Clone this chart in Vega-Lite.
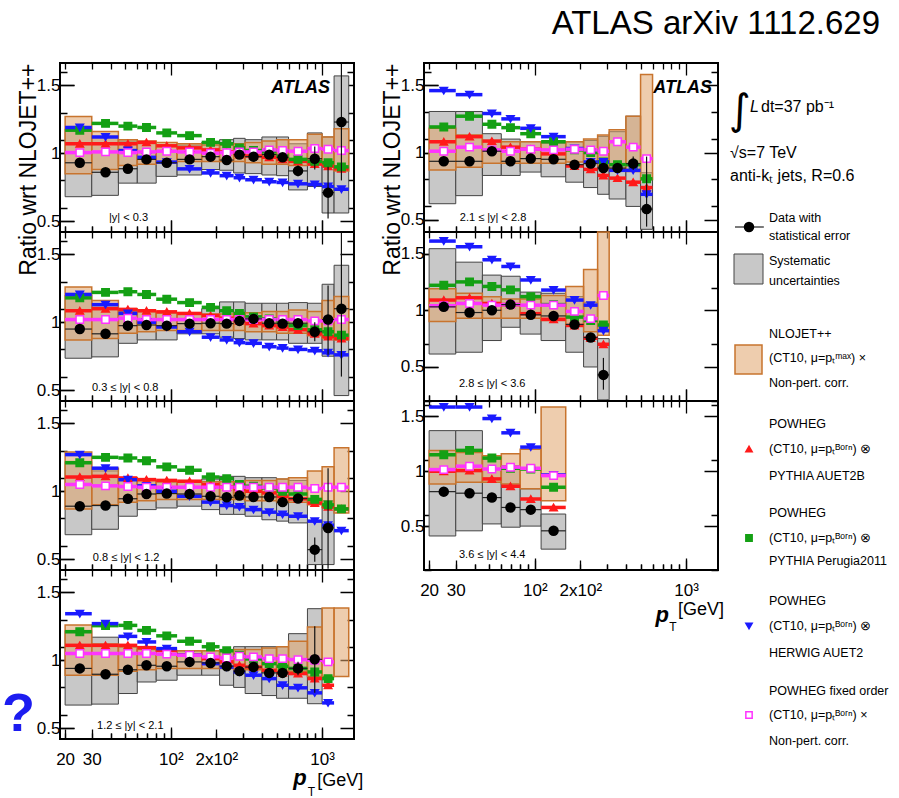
{
"$schema":"https://vega.github.io/schema/vega-lite/v6.json",
"padding":{"top":8,"left":0,"right":0,"bottom":0},
"background":"white",
"title":{"text":"ATLAS arXiv 1112.629","anchor":"end","fontSize":33,"font":"Liberation Sans","fontWeight":"normal","color":"black","offset":21,"dx":-16},
"config":{
 "view":{"stroke":"black","strokeWidth":2},
 "axis":{"domain":false,"grid":false,"tickColor":"black","tickWidth":1.3,"labelColor":"black","labelFont":"Liberation Sans","labelFontSize":17,"labelFlush":false,"labelOverlap":false,"titleColor":"black","titleFont":"Liberation Sans","titleFontWeight":"normal","titleFontSize":23,"gridColor":"black","gridOpacity":1,"gridWidth":1.3},
 "style":{
  "rl":{"font":"Liberation Sans","fontSize":11,"align":"left","baseline":"middle"},
  "atl":{"font":"Liberation Sans","fontSize":18,"fontWeight":"bold","fontStyle":"italic","align":"right","baseline":"middle"},
  "pt":{"font":"Liberation Sans","fontSize":22,"fontWeight":"bold","fontStyle":"italic","align":"center","baseline":"middle"},
  "ptt":{"font":"Liberation Sans","fontSize":12,"align":"center","baseline":"middle"},
  "gev":{"font":"Liberation Sans","fontSize":18,"align":"left","baseline":"middle"},
  "qm":{"font":"Liberation Sans","fontSize":54,"fontWeight":"bold","align":"left","baseline":"middle"},
  "lt":{"font":"Liberation Sans","fontSize":12.5,"align":"left","baseline":"middle"},
  "lb":{"font":"Liberation Sans","fontSize":16,"align":"left","baseline":"middle"},
  "li":{"font":"DejaVu Sans","fontSize":42,"align":"left","baseline":"middle"}
 }
},
"datasets":{
"bins":[
{"p":"L1","lo":20,"hi":30,"c":25,"d":0.93,"sl":0.68,"sh":1.18,"nl":0.85,"nh":1.27,"r":1.07,"g":1.17,"b":1.19,"m":1.005},
{"p":"L1","lo":30,"hi":45,"c":37,"d":0.86,"sl":0.69,"sh":1.12,"nl":0.88,"nh":1.16,"r":1.07,"g":1.22,"b":1.12,"m":1.01},
{"p":"L1","lo":45,"hi":60,"c":52,"d":0.886,"sl":0.78,"sh":1.09,"nl":0.91,"nh":1.1,"r":1.07,"g":1.2,"b":1.02,"m":1.005},
{"p":"L1","lo":60,"hi":80,"c":69,"d":0.955,"sl":0.78,"sh":1.08,"nl":0.92,"nh":1.09,"r":1.08,"g":1.19,"b":0.97,"m":1.01},
{"p":"L1","lo":80,"hi":110,"c":94,"d":0.93,"sl":0.83,"sh":1.06,"nl":0.93,"nh":1.08,"r":1.055,"g":1.15,"b":0.935,"m":1.015},
{"p":"L1","lo":110,"hi":160,"c":133,"d":0.955,"sl":0.84,"sh":1.06,"nl":0.94,"nh":1.07,"r":1.04,"g":1.13,"b":0.885,"m":1.01},
{"p":"L1","lo":160,"hi":210,"c":183,"d":0.975,"sl":0.88,"sh":1.08,"nl":0.94,"nh":1.06,"r":1.025,"g":1.08,"b":0.855,"m":1.0},
{"p":"L1","lo":210,"hi":260,"c":234,"d":0.95,"sl":0.875,"sh":1.1,"nl":0.94,"nh":1.06,"r":1.01,"g":1.07,"b":0.835,"m":1.005},
{"p":"L1","lo":260,"hi":310,"c":284,"d":0.99,"sl":0.855,"sh":1.11,"nl":0.94,"nh":1.07,"r":0.99,"g":1.04,"b":0.82,"m":1.01},
{"p":"L1","lo":310,"hi":400,"c":352,"d":0.975,"sl":0.85,"sh":1.1,"nl":0.93,"nh":1.08,"r":0.98,"g":1.02,"b":0.805,"m":1.01},
{"p":"L1","lo":400,"hi":500,"c":447,"d":0.99,"sl":0.84,"sh":1.12,"nl":0.92,"nh":1.09,"r":0.97,"g":1.01,"b":0.79,"m":1.025},
{"p":"L1","lo":500,"hi":600,"c":548,"d":0.97,"sl":0.835,"sh":1.12,"nl":0.92,"nh":1.1,"r":0.955,"g":0.98,"b":0.785,"m":1.02},
{"p":"L1","lo":600,"hi":800,"c":693,"d":0.87,"dl":0.83,"dh":0.91,"sl":0.73,"sh":1.07,"nl":0.91,"nh":1.1,"r":0.94,"g":0.955,"b":0.775,"m":1.015},
{"p":"L1","lo":800,"hi":1000,"c":894,"d":0.96,"dl":0.88,"dh":1.05,"sl":0.755,"sh":1.15,"nl":0.93,"nh":1.14,"r":0.92,"g":0.94,"b":0.77,"m":1.035},
{"p":"L1","lo":1000,"hi":1200,"c":1095,"d":0.71,"dl":0.52,"dh":0.9,"sl":0.56,"sh":1.12,"nl":0.92,"nh":1.12,"r":0.905,"g":0.93,"b":0.755,"m":1.03},
{"p":"L1","lo":1200,"hi":1500,"c":1342,"d":1.23,"dl":0.8,"dh":1.66,"sl":0.56,"sh":1.57,"nl":0.87,"nh":1.18,"r":0.885,"g":0.9,"b":0.735,"m":1.02},
{"p":"L2","lo":20,"hi":30,"c":25,"d":0.95,"sl":0.735,"sh":1.2,"nl":0.87,"nh":1.26,"r":1.085,"g":1.18,"b":1.205,"m":1.02},
{"p":"L2","lo":30,"hi":45,"c":37,"d":0.915,"sl":0.745,"sh":1.13,"nl":0.88,"nh":1.16,"r":1.1,"g":1.22,"b":1.13,"m":1.02},
{"p":"L2","lo":45,"hi":60,"c":52,"d":0.975,"sl":0.845,"sh":1.08,"nl":0.92,"nh":1.1,"r":1.095,"g":1.225,"b":1.065,"m":1.03},
{"p":"L2","lo":60,"hi":80,"c":69,"d":0.98,"sl":0.87,"sh":1.08,"nl":0.93,"nh":1.08,"r":1.085,"g":1.205,"b":1.0,"m":1.02},
{"p":"L2","lo":80,"hi":110,"c":94,"d":0.975,"sl":0.87,"sh":1.07,"nl":0.94,"nh":1.07,"r":1.077,"g":1.17,"b":0.965,"m":1.02},
{"p":"L2","lo":110,"hi":160,"c":133,"d":0.99,"sl":0.915,"sh":1.07,"nl":0.94,"nh":1.06,"r":1.065,"g":1.145,"b":0.93,"m":1.02},
{"p":"L2","lo":160,"hi":210,"c":183,"d":0.993,"sl":0.915,"sh":1.1,"nl":0.94,"nh":1.06,"r":1.05,"g":1.11,"b":0.89,"m":1.02},
{"p":"L2","lo":210,"hi":260,"c":234,"d":0.99,"sl":0.89,"sh":1.15,"nl":0.94,"nh":1.06,"r":1.03,"g":1.085,"b":0.87,"m":1.02},
{"p":"L2","lo":260,"hi":310,"c":284,"d":1.01,"sl":0.88,"sh":1.15,"nl":0.94,"nh":1.07,"r":1.01,"g":1.065,"b":0.85,"m":1.02},
{"p":"L2","lo":310,"hi":400,"c":352,"d":1.025,"sl":0.87,"sh":1.14,"nl":0.93,"nh":1.07,"r":0.99,"g":1.04,"b":0.845,"m":1.02},
{"p":"L2","lo":400,"hi":500,"c":447,"d":0.993,"sl":0.87,"sh":1.14,"nl":0.93,"nh":1.08,"r":0.975,"g":1.025,"b":0.82,"m":1.02},
{"p":"L2","lo":500,"hi":600,"c":548,"d":0.99,"sl":0.87,"sh":1.14,"nl":0.92,"nh":1.08,"r":0.965,"g":1.0,"b":0.81,"m":1.02},
{"p":"L2","lo":600,"hi":800,"c":693,"d":0.993,"sl":0.845,"sh":1.145,"nl":0.92,"nh":1.09,"r":0.945,"g":0.975,"b":0.8,"m":1.02},
{"p":"L2","lo":800,"hi":1000,"c":894,"d":0.93,"dl":0.86,"dh":1.0,"sl":0.845,"sh":1.14,"nl":0.9,"nh":1.08,"r":0.915,"g":0.945,"b":0.79,"m":1.01},
{"p":"L2","lo":1000,"hi":1200,"c":1095,"d":1.02,"dl":0.76,"dh":1.27,"sl":0.75,"sh":1.28,"nl":0.88,"nh":1.16,"r":0.895,"g":0.93,"b":0.775,"m":1.01},
{"p":"L2","lo":1200,"hi":1500,"c":1342,"d":1.1,"dl":0.6,"dh":1.66,"sl":0.46,"sh":1.42,"nl":0.87,"nh":1.19,"r":0.88,"g":0.905,"b":0.76,"m":1.02},
{"p":"L3","lo":20,"hi":30,"c":25,"d":0.89,"sl":0.68,"sh":1.22,"nl":0.87,"nh":1.29,"r":1.105,"g":1.21,"b":1.27,"m":1.05},
{"p":"L3","lo":30,"hi":45,"c":37,"d":0.895,"sl":0.72,"sh":1.15,"nl":0.9,"nh":1.17,"r":1.11,"g":1.25,"b":1.17,"m":1.04},
{"p":"L3","lo":45,"hi":60,"c":52,"d":0.945,"sl":0.816,"sh":1.1,"nl":0.92,"nh":1.1,"r":1.098,"g":1.245,"b":1.085,"m":1.035},
{"p":"L3","lo":60,"hi":80,"c":69,"d":0.98,"sl":0.865,"sh":1.08,"nl":0.93,"nh":1.08,"r":1.086,"g":1.225,"b":1.04,"m":1.03},
{"p":"L3","lo":80,"hi":110,"c":94,"d":0.983,"sl":0.877,"sh":1.07,"nl":0.94,"nh":1.07,"r":1.08,"g":1.18,"b":1.0,"m":1.03},
{"p":"L3","lo":110,"hi":160,"c":133,"d":0.98,"sl":0.89,"sh":1.07,"nl":0.94,"nh":1.07,"r":1.074,"g":1.155,"b":0.963,"m":1.03},
{"p":"L3","lo":160,"hi":210,"c":183,"d":0.963,"sl":0.865,"sh":1.09,"nl":0.94,"nh":1.07,"r":1.05,"g":1.105,"b":0.92,"m":1.03},
{"p":"L3","lo":210,"hi":260,"c":234,"d":0.956,"sl":0.83,"sh":1.11,"nl":0.94,"nh":1.07,"r":1.032,"g":1.093,"b":0.895,"m":1.03},
{"p":"L3","lo":260,"hi":310,"c":284,"d":0.968,"sl":0.83,"sh":1.11,"nl":0.94,"nh":1.07,"r":1.017,"g":1.05,"b":0.885,"m":1.03},
{"p":"L3","lo":310,"hi":400,"c":352,"d":0.958,"sl":0.816,"sh":1.1,"nl":0.93,"nh":1.08,"r":1.0,"g":1.037,"b":0.865,"m":1.03},
{"p":"L3","lo":400,"hi":500,"c":447,"d":0.958,"sl":0.79,"sh":1.1,"nl":0.93,"nh":1.08,"r":0.988,"g":1.025,"b":0.846,"m":1.03},
{"p":"L3","lo":500,"hi":600,"c":548,"d":0.92,"sl":0.78,"sh":1.09,"nl":0.92,"nh":1.09,"r":0.963,"g":1.0,"b":0.83,"m":1.03},
{"p":"L3","lo":600,"hi":800,"c":693,"d":0.946,"sl":0.767,"sh":1.08,"nl":0.92,"nh":1.1,"r":0.944,"g":0.98,"b":0.816,"m":1.03},
{"p":"L3","lo":800,"hi":1000,"c":894,"d":0.57,"dl":0.48,"dh":0.66,"sl":0.46,"sh":0.78,"nl":0.9,"nh":1.15,"r":0.914,"g":0.94,"b":0.78,"m":1.02},
{"p":"L3","lo":1000,"hi":1200,"c":1095,"d":0.73,"dl":0.43,"dh":1.17,"sl":0.46,"sh":0.93,"nl":0.88,"nh":1.18,"r":0.885,"g":0.9,"b":0.75,"m":1.03},
{"p":"L3","lo":1200,"hi":1500,"c":1342,"nl":0.84,"nh":1.32,"r":0.87,"g":0.87,"b":0.71,"m":1.03},
{"p":"L4","lo":20,"hi":30,"c":25,"d":0.94,"sl":0.67,"sh":1.22,"nl":0.89,"nh":1.26,"r":1.11,"g":1.21,"b":1.343,"m":1.05},
{"p":"L4","lo":30,"hi":45,"c":37,"d":0.897,"sl":0.677,"sh":1.17,"nl":0.89,"nh":1.12,"r":1.11,"g":1.255,"b":1.27,"m":1.05},
{"p":"L4","lo":45,"hi":60,"c":52,"d":0.93,"sl":0.755,"sh":1.1,"nl":0.92,"nh":1.1,"r":1.11,"g":1.257,"b":1.176,"m":1.05},
{"p":"L4","lo":60,"hi":80,"c":69,"d":0.963,"sl":0.84,"sh":1.08,"nl":0.93,"nh":1.08,"r":1.093,"g":1.22,"b":1.135,"m":1.05},
{"p":"L4","lo":80,"hi":110,"c":94,"d":0.956,"sl":0.853,"sh":1.07,"nl":0.94,"nh":1.07,"r":1.073,"g":1.18,"b":1.086,"m":1.045},
{"p":"L4","lo":110,"hi":160,"c":133,"d":0.988,"sl":0.89,"sh":1.07,"nl":0.94,"nh":1.07,"r":1.037,"g":1.14,"b":1.037,"m":1.037},
{"p":"L4","lo":160,"hi":210,"c":183,"d":0.98,"sl":0.89,"sh":1.07,"nl":0.94,"nh":1.07,"r":1.012,"g":1.1,"b":0.975,"m":1.025},
{"p":"L4","lo":210,"hi":260,"c":234,"d":0.956,"sl":0.816,"sh":1.08,"nl":0.94,"nh":1.07,"r":0.988,"g":1.07,"b":0.95,"m":1.017},
{"p":"L4","lo":260,"hi":310,"c":284,"d":0.92,"sl":0.8,"sh":1.1,"nl":0.93,"nh":1.08,"r":0.963,"g":1.037,"b":0.914,"m":1.03},
{"p":"L4","lo":310,"hi":400,"c":352,"d":0.95,"sl":0.755,"sh":1.1,"nl":0.93,"nh":1.08,"r":0.95,"g":1.01,"b":0.89,"m":1.025},
{"p":"L4","lo":400,"hi":500,"c":447,"d":0.907,"sl":0.74,"sh":1.1,"nl":0.92,"nh":1.09,"r":0.926,"g":0.975,"b":0.865,"m":1.012},
{"p":"L4","lo":500,"hi":600,"c":548,"d":0.907,"sl":0.72,"sh":1.1,"nl":0.92,"nh":1.1,"r":0.907,"g":0.956,"b":0.816,"m":1.012},
{"p":"L4","lo":600,"hi":800,"c":693,"d":0.94,"dl":0.89,"dh":0.99,"sl":0.72,"sh":1.196,"nl":0.92,"nh":1.14,"r":0.902,"g":0.94,"b":0.797,"m":1.005},
{"p":"L4","lo":800,"hi":1000,"c":894,"d":1.007,"dl":0.76,"dh":1.25,"sl":0.68,"sh":1.38,"nl":0.88,"nh":1.245,"r":0.865,"g":0.914,"b":0.76,"m":1.0},
{"p":"L4","lo":1000,"hi":1200,"c":1095,"nl":0.88,"nh":1.385,"r":0.816,"g":0.865,"b":0.686,"m":0.988},
{"p":"L4","lo":1200,"hi":1500,"c":1342,"nl":0.88,"nh":1.385},
{"p":"R1","lo":20,"hi":30,"c":25,"d":0.935,"sl":0.62,"sh":1.305,"nl":0.87,"nh":1.18,"r":1.08,"g":1.19,"b":1.46,"m":1.01},
{"p":"R1","lo":30,"hi":45,"c":37,"d":0.935,"sl":0.68,"sh":1.305,"nl":0.89,"nh":1.13,"r":1.118,"g":1.27,"b":1.43,"m":1.04},
{"p":"R1","lo":45,"hi":60,"c":52,"d":1.01,"sl":0.83,"sh":1.14,"nl":0.92,"nh":1.09,"r":1.085,"g":1.21,"b":1.29,"m":1.02},
{"p":"R1","lo":60,"hi":80,"c":69,"d":0.935,"sl":0.83,"sh":1.1,"nl":0.92,"nh":1.08,"r":1.04,"g":1.185,"b":1.25,"m":1.01},
{"p":"R1","lo":80,"hi":110,"c":94,"d":0.955,"sl":0.855,"sh":1.08,"nl":0.92,"nh":1.08,"r":1.025,"g":1.14,"b":1.18,"m":1.025},
{"p":"R1","lo":110,"hi":160,"c":133,"d":0.95,"sl":0.82,"sh":1.07,"nl":0.92,"nh":1.08,"r":0.99,"g":1.08,"b":1.118,"m":1.02},
{"p":"R1","lo":160,"hi":210,"c":183,"d":0.91,"sl":0.78,"sh":1.08,"nl":0.93,"nh":1.08,"r":0.9,"g":1.02,"b":1.03,"m":1.025},
{"p":"R1","lo":210,"hi":260,"c":234,"d":0.918,"sl":0.74,"sh":1.09,"nl":0.92,"nh":1.1,"r":0.875,"g":1.0,"b":0.93,"m":1.02},
{"p":"R1","lo":260,"hi":310,"c":284,"d":0.885,"sl":0.69,"sh":1.12,"nl":0.9,"nh":1.13,"r":0.83,"g":0.93,"b":0.93,"m":1.01},
{"p":"R1","lo":310,"hi":400,"c":352,"d":0.885,"sl":0.655,"sh":1.155,"nl":0.88,"nh":1.17,"r":0.81,"g":0.91,"b":0.868,"m":1.08},
{"p":"R1","lo":400,"hi":500,"c":447,"d":0.918,"dl":0.87,"dh":0.97,"sl":0.6,"sh":1.27,"nl":0.86,"nh":1.27,"r":0.78,"g":0.91,"b":0.868,"m":1.04},
{"p":"R1","lo":500,"hi":600,"c":548,"d":0.58,"dl":0.45,"dh":0.97,"sl":0.43,"sh":0.85,"nl":0.8,"nh":1.58,"r":0.74,"g":0.805,"b":0.69,"m":0.955},
{"p":"R2","lo":20,"hi":30,"c":25,"d":1.03,"sl":0.614,"sh":1.543,"nl":0.9,"nh":1.19,"r":1.09,"g":1.22,"b":1.61,"m":1.04},
{"p":"R2","lo":30,"hi":45,"c":37,"d":0.98,"sl":0.63,"sh":1.424,"nl":0.93,"nh":1.15,"r":1.11,"g":1.25,"b":1.56,"m":1.06},
{"p":"R2","lo":45,"hi":60,"c":52,"d":1.0,"sl":0.733,"sh":1.31,"nl":0.93,"nh":1.12,"r":1.06,"g":1.21,"b":1.445,"m":1.045},
{"p":"R2","lo":60,"hi":80,"c":69,"d":1.05,"sl":0.85,"sh":1.3,"nl":0.93,"nh":1.1,"r":1.05,"g":1.18,"b":1.386,"m":1.05},
{"p":"R2","lo":80,"hi":110,"c":94,"d":0.96,"sl":0.79,"sh":1.16,"nl":0.93,"nh":1.1,"r":0.97,"g":1.12,"b":1.267,"m":1.045},
{"p":"R2","lo":110,"hi":160,"c":133,"d":0.95,"sl":0.733,"sh":1.15,"nl":0.91,"nh":1.13,"r":0.92,"g":1.05,"b":1.178,"m":1.045},
{"p":"R2","lo":160,"hi":210,"c":183,"d":0.875,"sl":0.63,"sh":1.12,"nl":0.87,"nh":1.21,"r":0.866,"g":0.94,"b":1.09,"m":0.99},
{"p":"R2","lo":210,"hi":260,"c":234,"d":0.76,"dl":0.73,"dh":0.79,"sl":0.5,"sh":1.07,"nl":0.81,"nh":1.36,"r":0.754,"g":0.91,"b":1.045,"m":0.926},
{"p":"R2","lo":260,"hi":310,"c":284,"d":0.43,"dl":0.3,"dh":0.58,"sl":0.21,"sh":0.75,"nl":0.78,"nh":1.69,"r":0.7,"g":0.87,"b":0.82,"m":1.13},
{"p":"R3","lo":20,"hi":30,"c":25,"d":0.814,"sl":0.41,"sh":1.37,"nl":0.884,"nh":1.19,"r":1.0,"g":1.15,"b":1.585,"m":1.015},
{"p":"R3","lo":30,"hi":45,"c":37,"d":0.8,"sl":0.457,"sh":1.37,"nl":0.9,"nh":1.17,"r":1.006,"g":1.19,"b":1.585,"m":1.046},
{"p":"R3","lo":45,"hi":60,"c":52,"d":0.76,"sl":0.52,"sh":1.11,"nl":0.9,"nh":1.14,"r":0.93,"g":1.12,"b":1.48,"m":1.02},
{"p":"R3","lo":60,"hi":80,"c":69,"d":0.67,"sl":0.49,"sh":1.05,"nl":0.884,"nh":1.16,"r":0.863,"g":1.027,"b":1.35,"m":1.037},
{"p":"R3","lo":80,"hi":110,"c":94,"d":0.65,"sl":0.5,"sh":0.84,"nl":0.84,"nh":1.2,"r":0.747,"g":1.02,"b":1.22,"m":1.027},
{"p":"R3","lo":110,"hi":160,"c":133,"d":0.457,"sl":0.29,"sh":0.61,"nl":0.73,"nh":1.585,"r":0.67,"g":0.854,"b":0.966,"m":0.96}
],
"labels":[
{"p":"L1","k":"r","x":39,"y":0.52,"t":"|y| < 0.3"},
{"p":"L2","k":"r","x":30.1,"y":0.515,"t":"0.3 ≤ |y| < 0.8"},
{"p":"L3","k":"r","x":30.5,"y":0.51,"t":"0.8 ≤ |y| < 1.2"},
{"p":"L4","k":"r","x":32.5,"y":0.515,"t":"1.2 ≤ |y| < 2.1"},
{"p":"R1","k":"r","x":31.9,"y":0.515,"t":"2.1 ≤ |y| < 2.8"},
{"p":"R2","k":"r","x":31.5,"y":0.35,"t":"2.8 ≤ |y| < 3.6"},
{"p":"R3","k":"r","x":31.5,"y":0.236,"t":"3.6 ≤ |y| < 4.4"},
{"p":"L1","k":"a","x":1126,"y":1.48,"t":"ATLAS"},
{"p":"R1","k":"a","x":1482,"y":1.48,"t":"ATLAS"},
{"p":"L4","k":"p","x":714,"y":0.13,"t":"p"},
{"p":"L4","k":"t","x":850,"y":0.03,"t":"T"},
{"p":"L4","k":"g","x":930,"y":0.11,"t":"[GeV]"},
{"p":"R3","k":"p","x":694,"y":-0.31,"t":"p"},
{"p":"R3","k":"t","x":818,"y":-0.42,"t":"T"},
{"p":"R3","k":"g","x":885,"y":-0.265,"t":"[GeV]"},
{"p":"L4","k":"q","x":7.65,"y":0.6,"t":"?"}
],
"leg":[
{"k":"int","x":-59,"y":48,"t":"∫"},
{"k":"bigi","x":-38,"y":44,"t":"L"},
{"k":"big","x":-27,"y":44,"t":"dt=37 pb⁻¹"},
{"k":"big","x":-58,"y":90,"t":"√s=7 TeV"},
{"k":"big","x":-58,"y":113,"t":"anti-kₜ  jets,  R=0.6"},
{"k":"line","x":-53,"x2":-24,"y":164},
{"k":"dot","x":-39,"y":164},
{"k":"box","x":-54,"x2":-25,"y":191,"y2":221},
{"k":"hatch","x":-53,"x2":-26,"y":282,"y2":311},
{"k":"mk","s":"r","x":-39,"y":386},
{"k":"mk","s":"g","x":-39,"y":475},
{"k":"mk","s":"b","x":-39,"y":563},
{"k":"mk","s":"m","x":-39,"y":652},
{"k":"txt","x":-19,"y":155,"t":"Data with"},
{"k":"txt","x":-19,"y":173,"t":"statistical error"},
{"k":"txt","x":-19,"y":198,"t":"Systematic"},
{"k":"txt","x":-19,"y":218,"t":"uncertainties"},
{"k":"txt","x":-19,"y":271,"t":"NLOJET++"},
{"k":"txt","x":-19,"y":295,"t":"(CT10, μ=pₜᵐᵃˣ) ×"},
{"k":"txt","x":-19,"y":320,"t":"Non-pert. corr."},
{"k":"txt","x":-19,"y":361,"t":"POWHEG"},
{"k":"txt","x":-19,"y":386,"t":"(CT10, μ=pₜᴮᵒʳⁿ) ⊗"},
{"k":"txt","x":-19,"y":413,"t":"PYTHIA  AUET2B"},
{"k":"txt","x":-19,"y":450,"t":"POWHEG"},
{"k":"txt","x":-19,"y":475,"t":"(CT10, μ=pₜᴮᵒʳⁿ) ⊗"},
{"k":"txt","x":-19,"y":498,"t":"PYTHIA  Perugia2011"},
{"k":"txt","x":-19,"y":538,"t":"POWHEG"},
{"k":"txt","x":-19,"y":563,"t":"(CT10, μ=pₜᴮᵒʳⁿ) ⊗"},
{"k":"txt","x":-19,"y":590,"t":"HERWIG  AUET2"},
{"k":"txt","x":-19,"y":628,"t":"POWHEG fixed order"},
{"k":"txt","x":-19,"y":652,"t":"(CT10, μ=pₜᴮᵒʳⁿ) ×"},
{"k":"txt","x":-19,"y":678,"t":"Non-pert. corr."}
]
},
"columns":3,
"spacing":{"row":0,"column":70},
"bounds":"flush",
"resolve":{"scale":{"x":"independent","y":"independent"}},
"concat":[
{"width":294,"height":169,"data":{"name":"bins"},"transform":[{"filter":"datum.p=='L1'"}],"resolve":{"axis":{"y":"independent"}},
"layer":[
{"transform":[{"filter":"isValid(datum.sl)"}],"mark":{"type":"rect","fill":"#c8c8c8","stroke":"#444444","strokeWidth":1},"encoding":{"x":{"field":"lo","type":"quantitative","scale":{"type":"log","domain":[18.5,1625],"nice":false},"axis":{"values":[20,30,40,50,60,70,80,90,100,200,300,400,500,600,700,800,900,1000],"labels":false,"tickSize":{"condition":{"test":"datum.value==100||datum.value==1000","value":-12},"value":-6},"grid":true,"gridDash":{"condition":{"test":"datum.value==100||datum.value==1000","value":[12,145,12]},"value":[6,157,6]},"title":null}},"x2":{"field":"hi"},"y":{"field":"sl","type":"quantitative","scale":{"domain":[0.42,1.665],"nice":false,"zero":false},"axis":{"orient":"left","values":[0.5,1,1.5],"format":"~g","tickSize":-14,"labelPadding":14,"grid":true,"gridDash":[14,266,14],"title":"Ratio wrt NLOJET++","titleAnchor":"end","titlePadding":-4}},"y2":{"field":"sh"}}},
{"layer":[
{"mark":{"type":"rect","fill":"#e0a46c","fillOpacity":0.55,"stroke":"#c8742e","strokeWidth":1.5},"encoding":{"x":{"field":"lo","type":"quantitative"},"x2":{"field":"hi"},"y":{"field":"nl","type":"quantitative","axis":{"orient":"right","values":[0.6,0.7,0.8,0.9,1.1,1.2,1.3,1.4,1.6],"labels":false,"ticks":false,"grid":true,"gridDash":[7,280,7],"title":null}},"y2":{"field":"nh"}}},
{"transform":[{"fold":["r","g","b","m"],"as":["s","v"]},{"filter":"isValid(datum.v)"}],"mark":{"type":"rule","strokeWidth":3.5},"encoding":{"x":{"field":"lo","type":"quantitative"},"x2":{"field":"hi"},"y":{"field":"v","type":"quantitative"},"color":{"field":"s","type":"nominal","scale":{"domain":["r","g","b","m"],"range":["#ff1a1a","#14a014","#1a1aff","#ff33ff"]},"legend":null}}},
{"transform":[{"fold":["r","g","b","m"],"as":["s","v"]},{"filter":"isValid(datum.v)"}],"mark":{"type":"point","filled":true,"size":55,"strokeWidth":1.5,"opacity":1},"encoding":{"x":{"field":"c","type":"quantitative"},"y":{"field":"v","type":"quantitative"},"shape":{"field":"s","type":"nominal","scale":{"domain":["r","g","b","m"],"range":["triangle-up","square","triangle-down","square"]},"legend":null},"fill":{"field":"s","type":"nominal","scale":{"domain":["r","g","b","m"],"range":["#ff1a1a","#14a014","#1a1aff","#ffffff"]},"legend":null},"stroke":{"field":"s","type":"nominal","scale":{"domain":["r","g","b","m"],"range":["#ff1a1a","#14a014","#1a1aff","#ff33ff"]},"legend":null}}},
{"transform":[{"filter":"isValid(datum.d)"}],"mark":{"type":"rule","color":"#222222","strokeWidth":1.2},"encoding":{"x":{"field":"lo","type":"quantitative"},"x2":{"field":"hi"},"y":{"field":"d","type":"quantitative"}}},
{"transform":[{"filter":"isValid(datum.dl)"}],"mark":{"type":"rule","color":"#111111","strokeWidth":1.2},"encoding":{"x":{"field":"c","type":"quantitative"},"y":{"field":"dl","type":"quantitative"},"y2":{"field":"dh"}}},
{"transform":[{"filter":"isValid(datum.d)"}],"mark":{"type":"circle","color":"black","opacity":1,"size":110},"encoding":{"x":{"field":"c","type":"quantitative"},"y":{"field":"d","type":"quantitative"}}},
{"data":{"name":"labels"},"transform":[{"filter":"datum.p=='L1'&&datum.k=='r'"}],"mark":{"type":"text","style":"rl","color":"black"},"encoding":{"x":{"field":"x","type":"quantitative"},"y":{"field":"y","type":"quantitative"},"text":{"field":"t"}}},
{"data":{"name":"labels"},"transform":[{"filter":"datum.p=='L1'&&datum.k=='a'"}],"mark":{"type":"text","style":"atl","color":"black"},"encoding":{"x":{"field":"x","type":"quantitative"},"y":{"field":"y","type":"quantitative"},"text":{"field":"t"}}}
]}
]},
{"width":294,"height":169,"data":{"name":"bins"},"transform":[{"filter":"datum.p=='R1'"}],"resolve":{"axis":{"y":"independent"}},
"layer":[
{"transform":[{"filter":"isValid(datum.sl)"}],"mark":{"type":"rect","fill":"#c8c8c8","stroke":"#444444","strokeWidth":1},"encoding":{"x":{"field":"lo","type":"quantitative","scale":{"type":"log","domain":[18.5,1625],"nice":false},"axis":{"values":[20,30,40,50,60,70,80,90,100,200,300,400,500,600,700,800,900,1000],"labels":false,"tickSize":{"condition":{"test":"datum.value==100||datum.value==1000","value":-12},"value":-6},"grid":true,"gridDash":{"condition":{"test":"datum.value==100||datum.value==1000","value":[12,145,12]},"value":[6,157,6]},"title":null}},"x2":{"field":"hi"},"y":{"field":"sl","type":"quantitative","scale":{"domain":[0.41,1.665],"nice":false,"zero":false},"axis":{"orient":"left","values":[0.5,1,1.5],"format":"~g","tickSize":-14,"labelPadding":14,"grid":true,"gridDash":[14,266,14],"title":"Ratio wrt NLOJET++","titleAnchor":"end","titlePadding":-4}},"y2":{"field":"sh"}}},
{"layer":[
{"mark":{"type":"rect","fill":"#e0a46c","fillOpacity":0.55,"stroke":"#c8742e","strokeWidth":1.5},"encoding":{"x":{"field":"lo","type":"quantitative"},"x2":{"field":"hi"},"y":{"field":"nl","type":"quantitative","axis":{"orient":"right","values":[0.6,0.7,0.8,0.9,1.1,1.2,1.3,1.4,1.6],"labels":false,"ticks":false,"grid":true,"gridDash":[7,280,7],"title":null}},"y2":{"field":"nh"}}},
{"transform":[{"fold":["r","g","b","m"],"as":["s","v"]},{"filter":"isValid(datum.v)"}],"mark":{"type":"rule","strokeWidth":3.5},"encoding":{"x":{"field":"lo","type":"quantitative"},"x2":{"field":"hi"},"y":{"field":"v","type":"quantitative"},"color":{"field":"s","type":"nominal","scale":{"domain":["r","g","b","m"],"range":["#ff1a1a","#14a014","#1a1aff","#ff33ff"]},"legend":null}}},
{"transform":[{"fold":["r","g","b","m"],"as":["s","v"]},{"filter":"isValid(datum.v)"}],"mark":{"type":"point","filled":true,"size":55,"strokeWidth":1.5,"opacity":1},"encoding":{"x":{"field":"c","type":"quantitative"},"y":{"field":"v","type":"quantitative"},"shape":{"field":"s","type":"nominal","scale":{"domain":["r","g","b","m"],"range":["triangle-up","square","triangle-down","square"]},"legend":null},"fill":{"field":"s","type":"nominal","scale":{"domain":["r","g","b","m"],"range":["#ff1a1a","#14a014","#1a1aff","#ffffff"]},"legend":null},"stroke":{"field":"s","type":"nominal","scale":{"domain":["r","g","b","m"],"range":["#ff1a1a","#14a014","#1a1aff","#ff33ff"]},"legend":null}}},
{"transform":[{"filter":"isValid(datum.d)"}],"mark":{"type":"rule","color":"#222222","strokeWidth":1.2},"encoding":{"x":{"field":"lo","type":"quantitative"},"x2":{"field":"hi"},"y":{"field":"d","type":"quantitative"}}},
{"transform":[{"filter":"isValid(datum.dl)"}],"mark":{"type":"rule","color":"#111111","strokeWidth":1.2},"encoding":{"x":{"field":"c","type":"quantitative"},"y":{"field":"dl","type":"quantitative"},"y2":{"field":"dh"}}},
{"transform":[{"filter":"isValid(datum.d)"}],"mark":{"type":"circle","color":"black","opacity":1,"size":110},"encoding":{"x":{"field":"c","type":"quantitative"},"y":{"field":"d","type":"quantitative"}}},
{"data":{"name":"labels"},"transform":[{"filter":"datum.p=='R1'&&datum.k=='r'"}],"mark":{"type":"text","style":"rl","color":"black"},"encoding":{"x":{"field":"x","type":"quantitative"},"y":{"field":"y","type":"quantitative"},"text":{"field":"t"}}},
{"data":{"name":"labels"},"transform":[{"filter":"datum.p=='R1'&&datum.k=='a'"}],"mark":{"type":"text","style":"atl","color":"black"},"encoding":{"x":{"field":"x","type":"quantitative"},"y":{"field":"y","type":"quantitative"},"text":{"field":"t"}}}
]}
]},
{"width":108,"height":169,"view":{"stroke":null},"data":{"name":"leg"},
"layer":[
{"transform":[{"filter":"datum.k=='box'"}],"mark":{"type":"rect","fill":"#c8c8c8","stroke":"#444444","strokeWidth":1},"encoding":{"x":{"field":"x","type":"quantitative","scale":{"domain":[0,108],"nice":false,"zero":false},"axis":null},"x2":{"field":"x2"},"y":{"field":"y","type":"quantitative","scale":{"domain":[0,169],"reverse":true,"nice":false,"zero":false},"axis":null},"y2":{"field":"y2"}}},
{"transform":[{"filter":"datum.k=='hatch'"}],"mark":{"type":"rect","fill":"#e0a46c","fillOpacity":0.55,"stroke":"#c8742e","strokeWidth":1.5},"encoding":{"x":{"field":"x","type":"quantitative"},"x2":{"field":"x2"},"y":{"field":"y","type":"quantitative"},"y2":{"field":"y2"}}},
{"transform":[{"filter":"datum.k=='line'"}],"mark":{"type":"rule","color":"#222222","strokeWidth":1.2},"encoding":{"x":{"field":"x","type":"quantitative"},"x2":{"field":"x2"},"y":{"field":"y","type":"quantitative"}}},
{"transform":[{"filter":"datum.k=='dot'"}],"mark":{"type":"circle","color":"black","opacity":1,"size":110},"encoding":{"x":{"field":"x","type":"quantitative"},"y":{"field":"y","type":"quantitative"}}},
{"transform":[{"filter":"datum.k=='mk'"}],"mark":{"type":"point","filled":true,"size":40,"strokeWidth":1.5,"opacity":1},"encoding":{"x":{"field":"x","type":"quantitative"},"y":{"field":"y","type":"quantitative"},"shape":{"field":"s","type":"nominal","scale":{"domain":["r","g","b","m"],"range":["triangle-up","square","triangle-down","square"]},"legend":null},"fill":{"field":"s","type":"nominal","scale":{"domain":["r","g","b","m"],"range":["#ff1a1a","#14a014","#1a1aff","#ffffff"]},"legend":null},"stroke":{"field":"s","type":"nominal","scale":{"domain":["r","g","b","m"],"range":["#ff1a1a","#14a014","#1a1aff","#ff33ff"]},"legend":null}}},
{"transform":[{"filter":"datum.k=='txt'"}],"mark":{"type":"text","style":"lt","color":"black"},"encoding":{"x":{"field":"x","type":"quantitative"},"y":{"field":"y","type":"quantitative"},"text":{"field":"t"}}},
{"transform":[{"filter":"datum.k=='big'"}],"mark":{"type":"text","style":"lb","color":"black"},"encoding":{"x":{"field":"x","type":"quantitative"},"y":{"field":"y","type":"quantitative"},"text":{"field":"t"}}},
{"transform":[{"filter":"datum.k=='bigi'"}],"mark":{"type":"text","style":"lb","fontStyle":"italic","color":"black"},"encoding":{"x":{"field":"x","type":"quantitative"},"y":{"field":"y","type":"quantitative"},"text":{"field":"t"}}},
{"transform":[{"filter":"datum.k=='int'"}],"mark":{"type":"text","style":"li","color":"black"},"encoding":{"x":{"field":"x","type":"quantitative"},"y":{"field":"y","type":"quantitative"},"text":{"field":"t"}}}
]},
{"width":294,"height":169,"data":{"name":"bins"},"transform":[{"filter":"datum.p=='L2'"}],"resolve":{"axis":{"y":"independent"}},
"layer":[
{"transform":[{"filter":"isValid(datum.sl)"}],"mark":{"type":"rect","fill":"#c8c8c8","stroke":"#444444","strokeWidth":1},"encoding":{"x":{"field":"lo","type":"quantitative","scale":{"type":"log","domain":[18.5,1625],"nice":false},"axis":{"values":[20,30,40,50,60,70,80,90,100,200,300,400,500,600,700,800,900,1000],"labels":false,"tickSize":{"condition":{"test":"datum.value==100||datum.value==1000","value":-12},"value":-6},"grid":true,"gridDash":{"condition":{"test":"datum.value==100||datum.value==1000","value":[12,145,12]},"value":[6,157,6]},"title":null}},"x2":{"field":"hi"},"y":{"field":"sl","type":"quantitative","scale":{"domain":[0.42,1.665],"nice":false,"zero":false},"axis":{"orient":"left","values":[0.5,1,1.5],"format":"~g","tickSize":-14,"labelPadding":14,"grid":true,"gridDash":[14,266,14],"title":null}},"y2":{"field":"sh"}}},
{"layer":[
{"mark":{"type":"rect","fill":"#e0a46c","fillOpacity":0.55,"stroke":"#c8742e","strokeWidth":1.5},"encoding":{"x":{"field":"lo","type":"quantitative"},"x2":{"field":"hi"},"y":{"field":"nl","type":"quantitative","axis":{"orient":"right","values":[0.6,0.7,0.8,0.9,1.1,1.2,1.3,1.4,1.6],"labels":false,"ticks":false,"grid":true,"gridDash":[7,280,7],"title":null}},"y2":{"field":"nh"}}},
{"transform":[{"fold":["r","g","b","m"],"as":["s","v"]},{"filter":"isValid(datum.v)"}],"mark":{"type":"rule","strokeWidth":3.5},"encoding":{"x":{"field":"lo","type":"quantitative"},"x2":{"field":"hi"},"y":{"field":"v","type":"quantitative"},"color":{"field":"s","type":"nominal","scale":{"domain":["r","g","b","m"],"range":["#ff1a1a","#14a014","#1a1aff","#ff33ff"]},"legend":null}}},
{"transform":[{"fold":["r","g","b","m"],"as":["s","v"]},{"filter":"isValid(datum.v)"}],"mark":{"type":"point","filled":true,"size":55,"strokeWidth":1.5,"opacity":1},"encoding":{"x":{"field":"c","type":"quantitative"},"y":{"field":"v","type":"quantitative"},"shape":{"field":"s","type":"nominal","scale":{"domain":["r","g","b","m"],"range":["triangle-up","square","triangle-down","square"]},"legend":null},"fill":{"field":"s","type":"nominal","scale":{"domain":["r","g","b","m"],"range":["#ff1a1a","#14a014","#1a1aff","#ffffff"]},"legend":null},"stroke":{"field":"s","type":"nominal","scale":{"domain":["r","g","b","m"],"range":["#ff1a1a","#14a014","#1a1aff","#ff33ff"]},"legend":null}}},
{"transform":[{"filter":"isValid(datum.d)"}],"mark":{"type":"rule","color":"#222222","strokeWidth":1.2},"encoding":{"x":{"field":"lo","type":"quantitative"},"x2":{"field":"hi"},"y":{"field":"d","type":"quantitative"}}},
{"transform":[{"filter":"isValid(datum.dl)"}],"mark":{"type":"rule","color":"#111111","strokeWidth":1.2},"encoding":{"x":{"field":"c","type":"quantitative"},"y":{"field":"dl","type":"quantitative"},"y2":{"field":"dh"}}},
{"transform":[{"filter":"isValid(datum.d)"}],"mark":{"type":"circle","color":"black","opacity":1,"size":110},"encoding":{"x":{"field":"c","type":"quantitative"},"y":{"field":"d","type":"quantitative"}}},
{"data":{"name":"labels"},"transform":[{"filter":"datum.p=='L2'&&datum.k=='r'"}],"mark":{"type":"text","style":"rl","color":"black"},"encoding":{"x":{"field":"x","type":"quantitative"},"y":{"field":"y","type":"quantitative"},"text":{"field":"t"}}}
]}
]},
{"width":294,"height":169,"data":{"name":"bins"},"transform":[{"filter":"datum.p=='R2'"}],"resolve":{"axis":{"y":"independent"}},
"layer":[
{"transform":[{"filter":"isValid(datum.sl)"}],"mark":{"type":"rect","fill":"#c8c8c8","stroke":"#444444","strokeWidth":1},"encoding":{"x":{"field":"lo","type":"quantitative","scale":{"type":"log","domain":[18.5,1625],"nice":false},"axis":{"values":[20,30,40,50,60,70,80,90,100,200,300,400,500,600,700,800,900,1000],"labels":false,"tickSize":{"condition":{"test":"datum.value==100||datum.value==1000","value":-12},"value":-6},"grid":true,"gridDash":{"condition":{"test":"datum.value==100||datum.value==1000","value":[12,145,12]},"value":[6,157,6]},"title":null}},"x2":{"field":"hi"},"y":{"field":"sl","type":"quantitative","scale":{"domain":[0.2,1.69],"nice":false,"zero":false},"axis":{"orient":"left","values":[0.5,1,1.5],"format":"~g","tickSize":-14,"labelPadding":14,"grid":true,"gridDash":[14,266,14],"title":null}},"y2":{"field":"sh"}}},
{"layer":[
{"mark":{"type":"rect","fill":"#e0a46c","fillOpacity":0.55,"stroke":"#c8742e","strokeWidth":1.5},"encoding":{"x":{"field":"lo","type":"quantitative"},"x2":{"field":"hi"},"y":{"field":"nl","type":"quantitative","axis":{"orient":"right","values":[0.2,0.3,0.4,0.6,0.7,0.8,0.9,1.1,1.2,1.3,1.4,1.6],"labels":false,"ticks":false,"grid":true,"gridDash":[7,280,7],"title":null}},"y2":{"field":"nh"}}},
{"transform":[{"fold":["r","g","b","m"],"as":["s","v"]},{"filter":"isValid(datum.v)"}],"mark":{"type":"rule","strokeWidth":3.5},"encoding":{"x":{"field":"lo","type":"quantitative"},"x2":{"field":"hi"},"y":{"field":"v","type":"quantitative"},"color":{"field":"s","type":"nominal","scale":{"domain":["r","g","b","m"],"range":["#ff1a1a","#14a014","#1a1aff","#ff33ff"]},"legend":null}}},
{"transform":[{"fold":["r","g","b","m"],"as":["s","v"]},{"filter":"isValid(datum.v)"}],"mark":{"type":"point","filled":true,"size":55,"strokeWidth":1.5,"opacity":1},"encoding":{"x":{"field":"c","type":"quantitative"},"y":{"field":"v","type":"quantitative"},"shape":{"field":"s","type":"nominal","scale":{"domain":["r","g","b","m"],"range":["triangle-up","square","triangle-down","square"]},"legend":null},"fill":{"field":"s","type":"nominal","scale":{"domain":["r","g","b","m"],"range":["#ff1a1a","#14a014","#1a1aff","#ffffff"]},"legend":null},"stroke":{"field":"s","type":"nominal","scale":{"domain":["r","g","b","m"],"range":["#ff1a1a","#14a014","#1a1aff","#ff33ff"]},"legend":null}}},
{"transform":[{"filter":"isValid(datum.d)"}],"mark":{"type":"rule","color":"#222222","strokeWidth":1.2},"encoding":{"x":{"field":"lo","type":"quantitative"},"x2":{"field":"hi"},"y":{"field":"d","type":"quantitative"}}},
{"transform":[{"filter":"isValid(datum.dl)"}],"mark":{"type":"rule","color":"#111111","strokeWidth":1.2},"encoding":{"x":{"field":"c","type":"quantitative"},"y":{"field":"dl","type":"quantitative"},"y2":{"field":"dh"}}},
{"transform":[{"filter":"isValid(datum.d)"}],"mark":{"type":"circle","color":"black","opacity":1,"size":110},"encoding":{"x":{"field":"c","type":"quantitative"},"y":{"field":"d","type":"quantitative"}}},
{"data":{"name":"labels"},"transform":[{"filter":"datum.p=='R2'&&datum.k=='r'"}],"mark":{"type":"text","style":"rl","color":"black"},"encoding":{"x":{"field":"x","type":"quantitative"},"y":{"field":"y","type":"quantitative"},"text":{"field":"t"}}}
]}
]},
{"width":108,"height":169,"view":{"stroke":null},"data":{"values":[{"e":1}]},"mark":{"type":"point","opacity":0},"encoding":{}},
{"width":294,"height":169,"data":{"name":"bins"},"transform":[{"filter":"datum.p=='L3'"}],"resolve":{"axis":{"y":"independent"}},
"layer":[
{"transform":[{"filter":"isValid(datum.sl)"}],"mark":{"type":"rect","fill":"#c8c8c8","stroke":"#444444","strokeWidth":1},"encoding":{"x":{"field":"lo","type":"quantitative","scale":{"type":"log","domain":[18.5,1625],"nice":false},"axis":{"values":[20,30,40,50,60,70,80,90,100,200,300,400,500,600,700,800,900,1000],"labels":false,"tickSize":{"condition":{"test":"datum.value==100||datum.value==1000","value":-12},"value":-6},"grid":true,"gridDash":{"condition":{"test":"datum.value==100||datum.value==1000","value":[12,145,12]},"value":[6,157,6]},"title":null}},"x2":{"field":"hi"},"y":{"field":"sl","type":"quantitative","scale":{"domain":[0.42,1.665],"nice":false,"zero":false},"axis":{"orient":"left","values":[0.5,1,1.5],"format":"~g","tickSize":-14,"labelPadding":14,"grid":true,"gridDash":[14,266,14],"title":null}},"y2":{"field":"sh"}}},
{"layer":[
{"mark":{"type":"rect","fill":"#e0a46c","fillOpacity":0.55,"stroke":"#c8742e","strokeWidth":1.5},"encoding":{"x":{"field":"lo","type":"quantitative"},"x2":{"field":"hi"},"y":{"field":"nl","type":"quantitative","axis":{"orient":"right","values":[0.6,0.7,0.8,0.9,1.1,1.2,1.3,1.4,1.6],"labels":false,"ticks":false,"grid":true,"gridDash":[7,280,7],"title":null}},"y2":{"field":"nh"}}},
{"transform":[{"fold":["r","g","b","m"],"as":["s","v"]},{"filter":"isValid(datum.v)"}],"mark":{"type":"rule","strokeWidth":3.5},"encoding":{"x":{"field":"lo","type":"quantitative"},"x2":{"field":"hi"},"y":{"field":"v","type":"quantitative"},"color":{"field":"s","type":"nominal","scale":{"domain":["r","g","b","m"],"range":["#ff1a1a","#14a014","#1a1aff","#ff33ff"]},"legend":null}}},
{"transform":[{"fold":["r","g","b","m"],"as":["s","v"]},{"filter":"isValid(datum.v)"}],"mark":{"type":"point","filled":true,"size":55,"strokeWidth":1.5,"opacity":1},"encoding":{"x":{"field":"c","type":"quantitative"},"y":{"field":"v","type":"quantitative"},"shape":{"field":"s","type":"nominal","scale":{"domain":["r","g","b","m"],"range":["triangle-up","square","triangle-down","square"]},"legend":null},"fill":{"field":"s","type":"nominal","scale":{"domain":["r","g","b","m"],"range":["#ff1a1a","#14a014","#1a1aff","#ffffff"]},"legend":null},"stroke":{"field":"s","type":"nominal","scale":{"domain":["r","g","b","m"],"range":["#ff1a1a","#14a014","#1a1aff","#ff33ff"]},"legend":null}}},
{"transform":[{"filter":"isValid(datum.d)"}],"mark":{"type":"rule","color":"#222222","strokeWidth":1.2},"encoding":{"x":{"field":"lo","type":"quantitative"},"x2":{"field":"hi"},"y":{"field":"d","type":"quantitative"}}},
{"transform":[{"filter":"isValid(datum.dl)"}],"mark":{"type":"rule","color":"#111111","strokeWidth":1.2},"encoding":{"x":{"field":"c","type":"quantitative"},"y":{"field":"dl","type":"quantitative"},"y2":{"field":"dh"}}},
{"transform":[{"filter":"isValid(datum.d)"}],"mark":{"type":"circle","color":"black","opacity":1,"size":110},"encoding":{"x":{"field":"c","type":"quantitative"},"y":{"field":"d","type":"quantitative"}}},
{"data":{"name":"labels"},"transform":[{"filter":"datum.p=='L3'&&datum.k=='r'"}],"mark":{"type":"text","style":"rl","color":"black"},"encoding":{"x":{"field":"x","type":"quantitative"},"y":{"field":"y","type":"quantitative"},"text":{"field":"t"}}}
]}
]},
{"width":294,"height":169,"data":{"name":"bins"},"transform":[{"filter":"datum.p=='R3'"}],"resolve":{"axis":{"y":"independent"}},
"layer":[
{"transform":[{"filter":"isValid(datum.sl)"}],"mark":{"type":"rect","fill":"#c8c8c8","stroke":"#444444","strokeWidth":1},"encoding":{"x":{"field":"lo","type":"quantitative","scale":{"type":"log","domain":[18.5,1625],"nice":false},"axis":{"values":[20,30,40,50,60,70,80,90,100,200,300,400,500,600,700,800,900,1000],"labelExpr":"datum.value==20?'20':datum.value==30?'30':datum.value==100?'10²':datum.value==200?'2x10²':datum.value==1000?'10³':''","tickSize":{"condition":{"test":"datum.value==20||datum.value==30||datum.value==100||datum.value==200||datum.value==1000","value":-10},"value":-6},"labelPadding":22,"grid":true,"gridDash":{"condition":{"test":"datum.value==100||datum.value==1000","value":[12,145,12]},"value":[6,157,6]},"title":null}},"x2":{"field":"hi"},"y":{"field":"sl","type":"quantitative","scale":{"domain":[0.1,1.64],"nice":false,"zero":false},"axis":{"orient":"left","values":[0.5,1,1.5],"format":"~g","tickSize":-14,"labelPadding":14,"grid":true,"gridDash":[14,266,14],"title":null}},"y2":{"field":"sh"}}},
{"layer":[
{"mark":{"type":"rect","fill":"#e0a46c","fillOpacity":0.55,"stroke":"#c8742e","strokeWidth":1.5},"encoding":{"x":{"field":"lo","type":"quantitative"},"x2":{"field":"hi"},"y":{"field":"nl","type":"quantitative","axis":{"orient":"right","values":[0.1,0.2,0.3,0.4,0.6,0.7,0.8,0.9,1.1,1.2,1.3,1.4,1.6],"labels":false,"ticks":false,"grid":true,"gridDash":[7,280,7],"title":null}},"y2":{"field":"nh"}}},
{"transform":[{"fold":["r","g","b","m"],"as":["s","v"]},{"filter":"isValid(datum.v)"}],"mark":{"type":"rule","strokeWidth":3.5},"encoding":{"x":{"field":"lo","type":"quantitative"},"x2":{"field":"hi"},"y":{"field":"v","type":"quantitative"},"color":{"field":"s","type":"nominal","scale":{"domain":["r","g","b","m"],"range":["#ff1a1a","#14a014","#1a1aff","#ff33ff"]},"legend":null}}},
{"transform":[{"fold":["r","g","b","m"],"as":["s","v"]},{"filter":"isValid(datum.v)"}],"mark":{"type":"point","filled":true,"size":55,"strokeWidth":1.5,"opacity":1},"encoding":{"x":{"field":"c","type":"quantitative"},"y":{"field":"v","type":"quantitative"},"shape":{"field":"s","type":"nominal","scale":{"domain":["r","g","b","m"],"range":["triangle-up","square","triangle-down","square"]},"legend":null},"fill":{"field":"s","type":"nominal","scale":{"domain":["r","g","b","m"],"range":["#ff1a1a","#14a014","#1a1aff","#ffffff"]},"legend":null},"stroke":{"field":"s","type":"nominal","scale":{"domain":["r","g","b","m"],"range":["#ff1a1a","#14a014","#1a1aff","#ff33ff"]},"legend":null}}},
{"transform":[{"filter":"isValid(datum.d)"}],"mark":{"type":"rule","color":"#222222","strokeWidth":1.2},"encoding":{"x":{"field":"lo","type":"quantitative"},"x2":{"field":"hi"},"y":{"field":"d","type":"quantitative"}}},
{"transform":[{"filter":"isValid(datum.dl)"}],"mark":{"type":"rule","color":"#111111","strokeWidth":1.2},"encoding":{"x":{"field":"c","type":"quantitative"},"y":{"field":"dl","type":"quantitative"},"y2":{"field":"dh"}}},
{"transform":[{"filter":"isValid(datum.d)"}],"mark":{"type":"circle","color":"black","opacity":1,"size":110},"encoding":{"x":{"field":"c","type":"quantitative"},"y":{"field":"d","type":"quantitative"}}},
{"data":{"name":"labels"},"transform":[{"filter":"datum.p=='R3'&&datum.k=='r'"}],"mark":{"type":"text","style":"rl","color":"black"},"encoding":{"x":{"field":"x","type":"quantitative"},"y":{"field":"y","type":"quantitative"},"text":{"field":"t"}}},
{"data":{"name":"labels"},"transform":[{"filter":"datum.p=='R3'&&datum.k=='p'"}],"mark":{"type":"text","style":"pt","color":"black"},"encoding":{"x":{"field":"x","type":"quantitative"},"y":{"field":"y","type":"quantitative"},"text":{"field":"t"}}},
{"data":{"name":"labels"},"transform":[{"filter":"datum.p=='R3'&&datum.k=='t'"}],"mark":{"type":"text","style":"ptt","color":"black"},"encoding":{"x":{"field":"x","type":"quantitative"},"y":{"field":"y","type":"quantitative"},"text":{"field":"t"}}},
{"data":{"name":"labels"},"transform":[{"filter":"datum.p=='R3'&&datum.k=='g'"}],"mark":{"type":"text","style":"gev","color":"black"},"encoding":{"x":{"field":"x","type":"quantitative"},"y":{"field":"y","type":"quantitative"},"text":{"field":"t"}}}
]}
]},
{"width":108,"height":169,"view":{"stroke":null},"data":{"values":[{"e":1}]},"mark":{"type":"point","opacity":0},"encoding":{}},
{"width":294,"height":169,"data":{"name":"bins"},"transform":[{"filter":"datum.p=='L4'"}],"resolve":{"axis":{"y":"independent"}},
"layer":[
{"transform":[{"filter":"isValid(datum.sl)"}],"mark":{"type":"rect","fill":"#c8c8c8","stroke":"#444444","strokeWidth":1},"encoding":{"x":{"field":"lo","type":"quantitative","scale":{"type":"log","domain":[18.5,1625],"nice":false},"axis":{"values":[20,30,40,50,60,70,80,90,100,200,300,400,500,600,700,800,900,1000],"labelExpr":"datum.value==20?'20':datum.value==30?'30':datum.value==100?'10²':datum.value==200?'2x10²':datum.value==1000?'10³':''","tickSize":{"condition":{"test":"datum.value==20||datum.value==30||datum.value==100||datum.value==200||datum.value==1000","value":-10},"value":-6},"labelPadding":22,"grid":true,"gridDash":{"condition":{"test":"datum.value==100||datum.value==1000","value":[12,145,12]},"value":[6,157,6]},"title":null}},"x2":{"field":"hi"},"y":{"field":"sl","type":"quantitative","scale":{"domain":[0.42,1.665],"nice":false,"zero":false},"axis":{"orient":"left","values":[0.5,1,1.5],"format":"~g","tickSize":-14,"labelPadding":14,"grid":true,"gridDash":[14,266,14],"title":null}},"y2":{"field":"sh"}}},
{"layer":[
{"mark":{"type":"rect","fill":"#e0a46c","fillOpacity":0.55,"stroke":"#c8742e","strokeWidth":1.5},"encoding":{"x":{"field":"lo","type":"quantitative"},"x2":{"field":"hi"},"y":{"field":"nl","type":"quantitative","axis":{"orient":"right","values":[0.6,0.7,0.8,0.9,1.1,1.2,1.3,1.4,1.6],"labels":false,"ticks":false,"grid":true,"gridDash":[7,280,7],"title":null}},"y2":{"field":"nh"}}},
{"transform":[{"fold":["r","g","b","m"],"as":["s","v"]},{"filter":"isValid(datum.v)"}],"mark":{"type":"rule","strokeWidth":3.5},"encoding":{"x":{"field":"lo","type":"quantitative"},"x2":{"field":"hi"},"y":{"field":"v","type":"quantitative"},"color":{"field":"s","type":"nominal","scale":{"domain":["r","g","b","m"],"range":["#ff1a1a","#14a014","#1a1aff","#ff33ff"]},"legend":null}}},
{"transform":[{"fold":["r","g","b","m"],"as":["s","v"]},{"filter":"isValid(datum.v)"}],"mark":{"type":"point","filled":true,"size":55,"strokeWidth":1.5,"opacity":1},"encoding":{"x":{"field":"c","type":"quantitative"},"y":{"field":"v","type":"quantitative"},"shape":{"field":"s","type":"nominal","scale":{"domain":["r","g","b","m"],"range":["triangle-up","square","triangle-down","square"]},"legend":null},"fill":{"field":"s","type":"nominal","scale":{"domain":["r","g","b","m"],"range":["#ff1a1a","#14a014","#1a1aff","#ffffff"]},"legend":null},"stroke":{"field":"s","type":"nominal","scale":{"domain":["r","g","b","m"],"range":["#ff1a1a","#14a014","#1a1aff","#ff33ff"]},"legend":null}}},
{"transform":[{"filter":"isValid(datum.d)"}],"mark":{"type":"rule","color":"#222222","strokeWidth":1.2},"encoding":{"x":{"field":"lo","type":"quantitative"},"x2":{"field":"hi"},"y":{"field":"d","type":"quantitative"}}},
{"transform":[{"filter":"isValid(datum.dl)"}],"mark":{"type":"rule","color":"#111111","strokeWidth":1.2},"encoding":{"x":{"field":"c","type":"quantitative"},"y":{"field":"dl","type":"quantitative"},"y2":{"field":"dh"}}},
{"transform":[{"filter":"isValid(datum.d)"}],"mark":{"type":"circle","color":"black","opacity":1,"size":110},"encoding":{"x":{"field":"c","type":"quantitative"},"y":{"field":"d","type":"quantitative"}}},
{"data":{"name":"labels"},"transform":[{"filter":"datum.p=='L4'&&datum.k=='r'"}],"mark":{"type":"text","style":"rl","color":"black"},"encoding":{"x":{"field":"x","type":"quantitative"},"y":{"field":"y","type":"quantitative"},"text":{"field":"t"}}},
{"data":{"name":"labels"},"transform":[{"filter":"datum.p=='L4'&&datum.k=='p'"}],"mark":{"type":"text","style":"pt","color":"black"},"encoding":{"x":{"field":"x","type":"quantitative"},"y":{"field":"y","type":"quantitative"},"text":{"field":"t"}}},
{"data":{"name":"labels"},"transform":[{"filter":"datum.p=='L4'&&datum.k=='t'"}],"mark":{"type":"text","style":"ptt","color":"black"},"encoding":{"x":{"field":"x","type":"quantitative"},"y":{"field":"y","type":"quantitative"},"text":{"field":"t"}}},
{"data":{"name":"labels"},"transform":[{"filter":"datum.p=='L4'&&datum.k=='g'"}],"mark":{"type":"text","style":"gev","color":"black"},"encoding":{"x":{"field":"x","type":"quantitative"},"y":{"field":"y","type":"quantitative"},"text":{"field":"t"}}},
{"data":{"name":"labels"},"transform":[{"filter":"datum.p=='L4'&&datum.k=='q'"}],"mark":{"type":"text","style":"qm","color":"#1c1cf0"},"encoding":{"x":{"field":"x","type":"quantitative"},"y":{"field":"y","type":"quantitative"},"text":{"field":"t"}}}
]}
]}
]
}
